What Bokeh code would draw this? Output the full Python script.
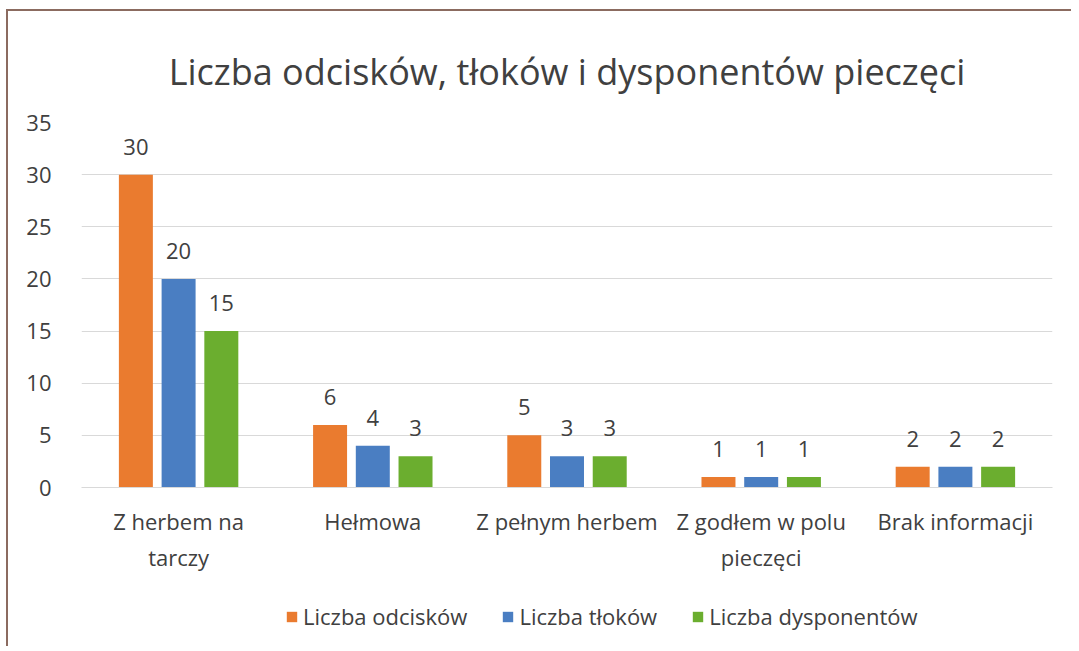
from bokeh.plotting import figure
from bokeh.models import ColumnDataSource, Legend, LegendItem, FixedTicker, Range1d
from bokeh.layouts import column
from bokeh.transform import dodge
from bokeh.core.properties import value
from bokeh.embed import file_html
from bokeh.resources import INLINE

categories = ["Z herbem na\ntarczy", "Hełmowa", "Z pełnym herbem", "Z godłem w polu\npieczęci", "Brak informacji"]
odciski = [30, 6, 5, 1, 2]
tloki = [20, 4, 3, 1, 2]
dysponenci = [15, 3, 3, 1, 2]
series_names = ["Liczba odcisków", "Liczba tłoków", "Liczba dysponentów"]
colors = ["#EA7B2F", "#4A7EC2", "#6BAE2F"]
y_ticks = [0, 5, 10, 15, 20, 25, 30, 35]

FONT = "Open Sans"
TXT = "#404040"
FS = "22px"

src = ColumnDataSource(dict(cat=categories, a=odciski, b=tloki, c=dysponenci,
                            la=[str(v) for v in odciski],
                            lb=[str(v) for v in tloki],
                            lc=[str(v) for v in dysponenci]))

p = figure(x_range=categories, y_range=(0, 35), frame_width=971, frame_height=365,
           output_backend="svg", toolbar_location=None,
           min_border_left=73, min_border_right=19, min_border_top=111, min_border_bottom=5)

p.title.text = "Liczba odcisków, tłoków i dysponentów pieczęci"
p.title.align = "center"
p.title.text_font = FONT
p.title.text_font_size = "36px"
p.title.text_font_style = "normal"
p.title.text_color = TXT
p.title.offset = 0
p.title.standoff = 53

for key, lab, off, col in [("a", "la", -0.22, colors[0]),
                           ("b", "lb", 0.0, colors[1]),
                           ("c", "lc", 0.22, colors[2])]:
    p.vbar(x=dodge("cat", off, range=p.x_range), top=key, width=0.175, source=src,
           fill_color=col, line_color=None)
    p.text(x=dodge("cat", off, range=p.x_range), y=key, text=lab, source=src,
           text_align="center", text_baseline="middle", y_offset=-28,
           text_font=value(FONT), text_font_size=FS, text_color=TXT)

p.yaxis.ticker = FixedTicker(ticks=y_ticks)
p.yaxis.axis_line_color = None
p.yaxis.major_tick_line_color = None
p.yaxis.minor_tick_line_color = None
p.yaxis.major_label_text_font = FONT
p.yaxis.major_label_text_font_size = FS
p.yaxis.major_label_text_color = TXT
p.yaxis.major_label_standoff = 24

p.xaxis.axis_line_color = "#D9D9D9"
p.xaxis.axis_line_width = 1
p.xaxis.major_tick_line_color = None
p.xaxis.minor_tick_line_color = None
p.xaxis.major_label_text_font = FONT
p.xaxis.major_label_text_font_size = FS
p.xaxis.major_label_text_color = TXT
p.xaxis.major_label_standoff = 12

p.xgrid.grid_line_color = None
p.ygrid.grid_line_color = "#D9D9D9"
p.ygrid.grid_line_width = 1
p.outline_line_color = None
p.x_range.range_padding = 0.0

# legend strip below the chart (proxy glyphs lie outside its visible range)
lf = figure(width=1063, height=72, output_backend="svg", toolbar_location=None,
            x_range=Range1d(0, 1), y_range=Range1d(0, 1),
            x_axis_location=None, y_axis_location=None,
            min_border_left=0, min_border_right=0, min_border_top=0, min_border_bottom=0)
lf.grid.visible = False
lf.outline_line_color = None
items = []
for col, name in zip(colors, series_names):
    r = lf.vbar(x=[-10], top=[-10], width=0.1, fill_color=col, line_color=None)
    items.append(LegendItem(label=name, renderers=[r]))

legend = Legend(items=items, orientation="horizontal", location=(204, 15),
                label_text_font=FONT, label_text_font_size=FS, label_text_color=TXT,
                glyph_width=13, glyph_height=13, spacing=34, label_standoff=5,
                border_line_color=None, background_fill_alpha=0, margin=0, padding=0)
lf.add_layout(legend, "center")

layout = column(p, lf, spacing=0)
layout.styles = {"margin-left": "6px", "margin-top": "9px",
                 "border-top": "2px solid #8B6B60", "border-left": "2px solid #8B6B60"}

open("out.html", "w").write(file_html(layout, INLINE))
